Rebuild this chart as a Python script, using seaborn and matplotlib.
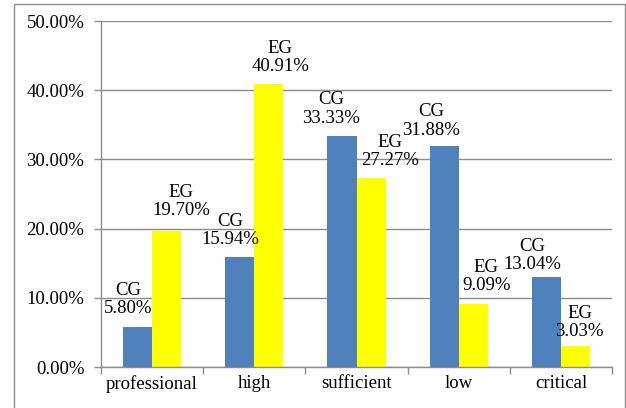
import matplotlib
matplotlib.use("Agg")
import matplotlib.pyplot as plt
import seaborn as sns
import pandas as pd
from matplotlib.patches import Rectangle
from matplotlib.ticker import FixedLocator, PercentFormatter

# ---- data ----
categories = ["professional", "high", "sufficient", "low", "critical"]
groups = ["CG", "EG"]
cg_values = [5.80, 15.94, 33.33, 31.88, 13.04]
eg_values = [19.70, 40.91, 27.27, 9.09, 3.03]
y_ticks = [0, 10, 20, 30, 40, 50]

# label offsets (pixels) relative to bar top-centre: (dx, dy of lower line centre)
cg_offsets = [(-9.5, 17), (-9, 16), (-11, 17), (-13, 15), (-14, 11)]
eg_offsets = [(14.5, 19), (11.5, 16), (19, 16), (13, 17), (4, 13)]

df = pd.DataFrame({
    "category": categories * 2,
    "group": ["CG"] * len(categories) + ["EG"] * len(categories),
    "value": cg_values + eg_values,
})

sns.set_theme(style="white")
plt.rcParams["font.family"] = ["Liberation Serif", "DejaVu Serif"]
FS = 13.5

fig = plt.figure(figsize=(6.26, 4.08), dpi=100)
ax = fig.add_axes([101 / 626, 41 / 408, (612 - 101) / 626, (367 - 21) / 408])

palette = {"CG": "#4F81BD", "EG": "#FFFF00"}
sns.barplot(data=df, x="category", y="value", hue="group", order=categories,
            hue_order=groups, palette=palette, width=0.57, gap=0,
            saturation=1, legend=False, ax=ax, linewidth=0)

ax.set_xlim(-0.5, len(categories) - 0.5)
ax.set_ylim(0, 50)
ax.set_xlabel("")
ax.set_ylabel("")

grey = "#8C8C8C"
ax.yaxis.set_major_locator(FixedLocator(y_ticks))
ax.yaxis.set_major_formatter(PercentFormatter(decimals=2))
ax.grid(axis="y", color=grey, linewidth=1.0)
ax.set_axisbelow(True)
for s in ["top", "right"]:
    ax.spines[s].set_visible(False)
for s in ["left", "bottom"]:
    ax.spines[s].set_color(grey)
    ax.spines[s].set_linewidth(1.0)

ax.tick_params(axis="y", which="major", length=5, color=grey, width=1,
               labelsize=FS, labelcolor="black", pad=7, left=True)
ax.tick_params(axis="x", which="major", length=0, labelsize=FS,
               labelcolor="black", pad=6, bottom=True)
ax.xaxis.set_minor_locator(FixedLocator([i - 0.5 for i in range(len(categories) + 1)]))
ax.tick_params(axis="x", which="minor", length=5, color=grey, width=1, bottom=True)

# value labels
for cont, grp, vals, offs in zip(ax.containers, groups, [cg_values, eg_values],
                                 [cg_offsets, eg_offsets]):
    for bar, v, (dx, dy) in zip(cont.patches, vals, offs):
        cx = bar.get_x() + bar.get_width() / 2
        ax.annotate(f"{grp}\n{v:.2f}%", xy=(cx, bar.get_height()),
                    xytext=(dx, dy + 10.5), textcoords="offset pixels",
                    ha="center", va="center", fontsize=FS, color="black",
                    linespacing=1.1, annotation_clip=False)

# outer frame
fig.patches.append(Rectangle((14 / 626, -0.05), (625 - 14) / 626, 1.05 - 4 / 408,
                             transform=fig.transFigure, fill=False,
                             edgecolor=grey, linewidth=1.0))

fig.savefig("out.png", dpi=100)
